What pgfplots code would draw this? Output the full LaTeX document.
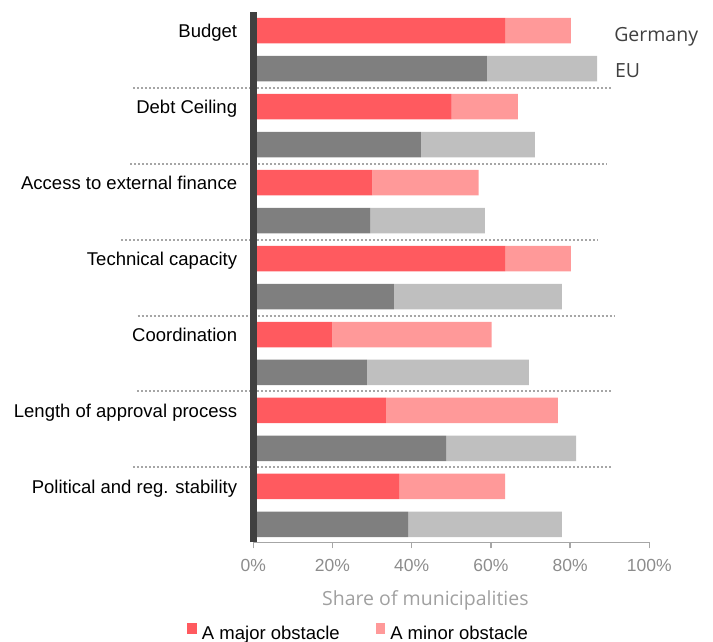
\documentclass[border=0pt]{standalone}
\usepackage{pgfplots}
\usepackage{pgfplotstable}
\usepackage{fontspec}
\setmainfont{Liberation Sans}
\newfontfamily\segoe{Open Sans}
\pgfplotsset{compat=1.18}

\definecolor{demaj}{HTML}{FF5A5F}
\definecolor{demin}{HTML}{FF9999}
\definecolor{eumaj}{HTML}{7F7F7F}
\definecolor{eumin}{HTML}{BFBFBF}
\definecolor{axisdark}{HTML}{404040}
\definecolor{ticklab}{HTML}{8C8C8C}
\definecolor{titlegray}{HTML}{A0A0A0}
\definecolor{sepgray}{HTML}{A6A6A6}

% share of municipalities (%), Germany rows and EU rows, top to bottom
\pgfplotstableread{
pos demaj demin eumaj eumin
13  63.6  16.6   0.0   0.0
12   0.0   0.0  59.0  27.8
11  50.1  16.7   0.0   0.0
10   0.0   0.0  42.3  28.8
9   30.1  26.8   0.0   0.0
8    0.0   0.0  29.5  29.0
7   63.6  16.6   0.0   0.0
6    0.0   0.0  35.5  42.4
5   20.0  40.2   0.0   0.0
4    0.0   0.0  28.7  40.9
3   33.5  43.4   0.0   0.0
2    0.0   0.0  48.7  32.8
1   36.8  26.8   0.0   0.0
0    0.0   0.0  39.1  38.8
}\obstacles

\tikzset{sep/.style={sepgray, line width=2pt, dash pattern=on 2pt off 2pt}}

\begin{document}
\begin{tikzpicture}[font=\fontsize{18.5}{22}\selectfont]
\useasboundingbox (0,0) rectangle (713pt,642pt);
\begin{axis}[
  at={(253.3pt,99.7pt)}, anchor=south west,
  scale only axis, width=396pt, height=530.3pt,
  xbar stacked, bar width=25.5pt,
  xmin=0, xmax=100,
  ymin=-0.47, ymax=13.49,
  axis on top, clip=false,
  axis x line*=bottom, axis y line*=left,
  x axis line style={draw=sepgray, line width=1.5pt, -},
  y axis line style={draw=axisdark, line width=6.7pt, -},
  tick align=outside,
  major tick length=6pt,
  xtick={0,20,...,100},
  xtick style={draw=sepgray, line width=1.5pt},
  /pgf/number format/assume math mode=true,
  xticklabel={\pgfmathprintnumber{\tick}\%},
  xticklabel style={text=ticklab, font=\fontsize{17.5}{21}\selectfont,
    anchor=base, yshift=-23pt},
  ytick={1,3,...,13},
  yticklabels={Political and reg. stability, Length of approval process,
    Coordination, Technical capacity, Access to external finance,
    Debt Ceiling, Budget},
  ytick style={draw=none},
  yticklabel style={anchor=base east, inner sep=0pt, xshift=-10pt, yshift=-6.6pt},
  xlabel={Share of municipalities},
  xlabel style={at={(axis description cs:0.4346,0)}, anchor=base,
    yshift=-63.5pt, text=titlegray, font=\segoe\fontsize{19.5}{23}\selectfont},
  legend columns=2,
  legend style={draw=none, fill=none, inner sep=0pt,
    at={(axis description cs:-0.1667,-0.169)}, anchor=west,
    nodes={inner sep=0pt}, column sep=5pt,
    /tikz/every even column/.append style={column sep=36pt}},
  legend image code/.code={\fill[#1] (0pt,-1pt) rectangle (9.5pt,10.5pt);},
]
\addplot[fill=demaj, draw=none] table[x=demaj, y=pos] {\obstacles};
\addlegendentry{A major obstacle}
\addplot[fill=demin, draw=none] table[x=demin, y=pos] {\obstacles};
\addlegendentry{A minor obstacle}
\addplot[fill=eumaj, draw=none, forget plot] table[x=eumaj, y=pos] {\obstacles};
\addplot[fill=eumin, draw=none, forget plot] table[x=eumin, y=pos] {\obstacles};

\draw[sep] (axis cs:-30.3,11.5) -- (axis cs:90.5,11.5);
\draw[sep] (axis cs:-31.1,9.5) -- (axis cs:89.2,9.5);
\draw[sep] (axis cs:-33.4,7.5) -- (axis cs:87.1,7.5);
\draw[sep] (axis cs:-29.2,5.5) -- (axis cs:91.3,5.5);
\draw[sep] (axis cs:-29.4,3.5) -- (axis cs:90.5,3.5);
\draw[sep] (axis cs:-30.3,1.5) -- (axis cs:90.5,1.5);

\node[anchor=mid west, inner sep=0pt, text=axisdark,
  font=\segoe\fontsize{19.5}{23}\selectfont] at (axis cs:91.1,12.79) {Germany};
\node[anchor=mid west, inner sep=0pt, text=axisdark,
  font=\segoe\fontsize{19.5}{23}\selectfont] at (axis cs:91.3,11.84) {EU};
\end{axis}
\end{tikzpicture}
\end{document}
